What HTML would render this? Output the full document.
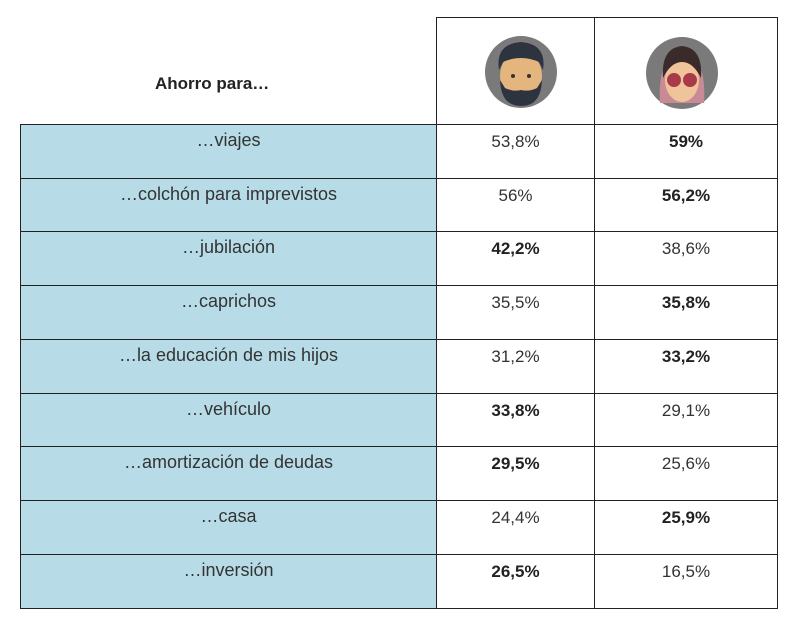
<!DOCTYPE html>
<html><head><meta charset="utf-8">
<style>
body{margin:0;width:800px;height:625px;background:#fff;position:relative;font-family:"Liberation Sans",sans-serif;overflow:hidden}
.a{position:absolute;box-sizing:border-box}
.lab{background:#b7dce8;border:1.5px solid #222;color:#333;font-size:18px;text-align:center;padding-top:5px}
.val{border:1.5px solid #222;color:#333;font-size:17px;text-align:center;padding-top:7px;background:#fff}
.b{font-weight:bold;color:#222}
</style></head><body>
<div class="a" style="left:155px;top:74px;font-size:17px;font-weight:bold;color:#222">Ahorro para…</div>
<div class="a" style="left:436px;top:17px;width:159px;height:108px;border:1.5px solid #222">
<svg width="156" height="105"><circle cx="84" cy="54" r="36" fill="#7a7a7a"/><ellipse cx="84" cy="58" rx="21" ry="25" fill="#e5b57e"/><path d="M62 52 Q58 26 84 24 Q110 26 106 52 L102 44 Q84 36 66 44Z" fill="#2e3340"/><path d="M63 62 Q64 88 84 88 Q104 88 105 62 L100 70 Q92 74 84 72 Q76 74 68 70Z" fill="#2e3340"/><circle cx="76" cy="58" r="2" fill="#333"/><circle cx="92" cy="58" r="2" fill="#333"/></svg></div>
<div class="a" style="left:594px;top:17px;width:184px;height:108px;border:1.5px solid #222">
<svg width="181" height="105"><circle cx="87" cy="55" r="36" fill="#7a7a7a"/><path d="M65 85 Q62 40 87 30 Q112 40 109 85Z" fill="#c98a96"/><ellipse cx="87" cy="62" rx="17" ry="22" fill="#f0c49a"/><path d="M68 60 Q66 30 87 28 Q108 30 106 60 Q98 44 87 44 Q76 44 68 60Z" fill="#3a2a2a"/><circle cx="79" cy="62" r="7" fill="#a83a4a"/><circle cx="95" cy="62" r="7" fill="#a83a4a"/></svg></div>
<div id="t"></div>
<script>
const categories=["…viajes","…colchón para imprevistos","…jubilación","…caprichos","…la educación de mis hijos","…vehículo","…amortización de deudas","…casa","…inversión"];
const men=["53,8%","56%","42,2%","35,5%","31,2%","33,8%","29,5%","24,4%","26,5%"];
const women=["59%","56,2%","38,6%","35,8%","33,2%","29,1%","25,6%","25,9%","16,5%"];
const t=document.getElementById('t');
const top0=124,rh=53.7;
const num=s=>parseFloat(s.replace(',','.'));
categories.forEach((c,i)=>{
 const y=top0+i*rh;
 const l=document.createElement('div');l.className='a lab';
 
 
 l.style.cssText=`left:20px;top:${y}px;width:417px;height:${rh+1.5}px`;l.textContent=c;t.appendChild(l);
 const mb=num(men[i])>num(women[i]);
 const m=document.createElement('div');m.className='a val'+(mb?' b':'');
 
 
 m.style.cssText=`left:436px;top:${y}px;width:159px;height:${rh+1.5}px`;m.textContent=men[i];t.appendChild(m);
 const w=document.createElement('div');w.className='a val'+(!mb?' b':'');
 
 
 w.style.cssText=`left:594px;top:${y}px;width:184px;height:${rh+1.5}px`;w.textContent=women[i];t.appendChild(w);
});
</script>
</body></html>
